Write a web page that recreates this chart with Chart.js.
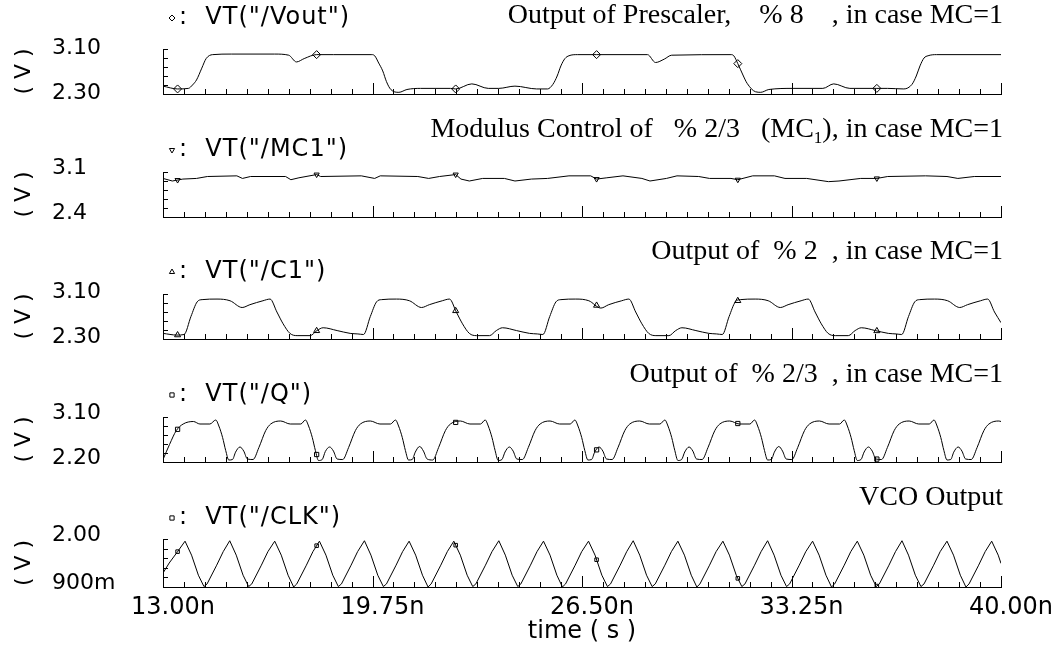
<!DOCTYPE html>
<html>
<head>
<meta charset="utf-8">
<script src="https://cdn.jsdelivr.net/npm/chart.js@4.4.1/dist/chart.umd.min.js"></script>
<style>
  html, body { margin: 0; padding: 0; background: #fff; }
  #wrap { position: relative; width: 1060px; height: 651px; overflow: hidden; }
  #wrap canvas { position: absolute; left: 0; }
</style>
</head>
<body>
<div id="wrap"></div>
<script>
// time axis, ns
const timeTicks = [13, 19.75, 26.5, 33.25, 40];
const timeTickLabels = ['13.00n', '19.75n', '26.50n', '33.25n', '40.00n'];

// one strip per node
const signalNames = ['/Vout', '/MC1', '/C1', '/Q', '/CLK'];
const yMax = [3.10, 3.1, 3.10, 3.10, 2.00];
const yMin = [2.30, 2.4, 2.30, 2.20, 0.9];
const yMaxLabels = ['3.10', '3.1', '3.10', '3.10', '2.00'];
const yMinLabels = ['2.30', '2.4', '2.30', '2.20', '900m'];
const captions = [
  'Output of Prescaler,    % 8    , in case MC=1',
  'Modulus Control of   % 2/3   (MC_1), in case MC=1',
  'Output of  % 2  , in case MC=1',
  'Output of  % 2/3  , in case MC=1',
  'VCO Output'
];

// where the trace symbols sit along each waveform
const markTimes = [13.47, 17.95, 22.43, 26.97, 31.52, 36.0];

// [time ns, volts]
const vout = [
  [13.00, 2.44], [13.47, 2.39], [13.82, 2.40], [13.95, 2.46], [14.08, 2.55], [14.25, 2.76], [14.39, 2.93], [14.60, 3.00],
  [15.20, 3.01], [16.60, 3.01], [17.05, 2.99], [17.30, 2.87], [17.55, 2.93], [17.95, 3.00], [18.50, 3.00], [19.73, 3.00],
  [19.82, 2.98], [19.95, 2.85], [20.08, 2.71], [20.20, 2.52], [20.34, 2.38], [20.60, 2.33], [20.86, 2.38], [21.30, 2.40],
  [22.26, 2.40], [22.43, 2.39], [22.95, 2.48], [23.48, 2.40], [23.82, 2.40], [24.34, 2.44], [25.04, 2.39], [25.39, 2.39],
  [25.56, 2.47], [25.70, 2.62], [25.82, 2.80], [25.95, 2.93], [26.08, 2.98], [26.35, 3.00], [26.97, 3.00], [28.61, 3.00],
  [28.87, 2.86], [29.15, 2.92], [29.39, 2.99], [31.30, 3.00], [31.39, 2.98], [31.52, 2.84], [31.70, 2.62], [31.82, 2.49],
  [32.09, 2.34], [32.26, 2.33], [32.52, 2.38], [33.30, 2.40], [34.26, 2.40], [34.61, 2.48], [35.13, 2.40], [36.00, 2.40],
  [36.35, 2.40], [36.87, 2.39], [37.13, 2.47], [37.27, 2.62], [37.39, 2.80], [37.52, 2.94], [37.65, 2.98], [37.92, 3.00],
  [40.00, 3.00]
];

const mc1 = [
  [13.00, 3.00], [13.30, 2.96], [13.64, 2.99], [14.08, 3.00], [14.43, 3.03], [15.38, 3.04], [15.56, 3.00], [15.82, 3.03],
  [16.95, 3.03], [17.12, 2.98], [17.38, 3.01], [17.95, 3.06], [18.08, 3.03], [19.39, 3.04], [19.82, 3.00], [20.00, 3.04],
  [21.21, 3.03], [21.56, 3.00], [21.91, 3.03], [22.43, 3.06], [22.60, 2.99], [22.87, 2.96], [23.30, 3.00], [24.00, 3.00],
  [24.34, 2.96], [24.87, 2.99], [25.39, 3.00], [26.08, 3.04], [26.78, 3.04], [26.97, 2.99], [27.30, 3.01], [27.82, 3.04],
  [28.43, 3.00], [28.69, 2.96], [29.22, 3.00], [29.56, 3.04], [30.26, 3.03], [30.61, 3.00], [31.30, 3.00], [31.52, 2.98],
  [32.00, 3.04], [32.70, 3.04], [33.04, 3.00], [33.74, 3.00], [34.44, 2.95], [34.78, 2.96], [35.48, 3.00], [36.00, 3.00],
  [36.35, 3.03], [37.57, 3.04], [38.26, 3.03], [38.61, 3.00], [39.14, 3.03], [40.00, 3.03]
];

const c1 = [
  [13.00, 2.40], [13.45, 2.37],
  [13.68, 2.38], [13.90, 2.70], [14.10, 2.96], [14.26, 3.00], [14.74, 3.01], [15.16, 2.98], [15.55, 2.86], [15.80, 2.91],
  [16.22, 2.98], [16.45, 3.01], [16.67, 2.78], [16.87, 2.57], [17.09, 2.40], [17.32, 2.36], [17.74, 2.36], [17.96, 2.45],
  [18.16, 2.50], [18.61, 2.45], [19.03, 2.40], [19.28, 2.39],
  [19.46, 2.38], [19.68, 2.70], [19.88, 2.96], [20.04, 3.00], [20.52, 3.01], [20.94, 2.98], [21.33, 2.86], [21.58, 2.91],
  [22.00, 2.98], [22.23, 3.01], [22.45, 2.78], [22.65, 2.57], [22.87, 2.40], [23.10, 2.36], [23.52, 2.36], [23.74, 2.45],
  [23.94, 2.50], [24.39, 2.45], [24.81, 2.40], [25.06, 2.39],
  [25.24, 2.38], [25.46, 2.70], [25.66, 2.96], [25.82, 3.00], [26.30, 3.01], [26.72, 2.98], [27.11, 2.85], [27.36, 2.91],
  [27.78, 2.98], [28.01, 3.01], [28.23, 2.78], [28.43, 2.57], [28.65, 2.40], [28.88, 2.36], [29.30, 2.36], [29.52, 2.45],
  [29.72, 2.50], [30.17, 2.45], [30.59, 2.40], [30.84, 2.39],
  [31.02, 2.38], [31.24, 2.70], [31.44, 2.96], [31.60, 3.00], [32.08, 3.01], [32.50, 2.98], [32.89, 2.86], [33.14, 2.91],
  [33.56, 2.98], [33.79, 3.01], [34.01, 2.78], [34.21, 2.57], [34.43, 2.40], [34.66, 2.36], [35.08, 2.36], [35.30, 2.45],
  [35.50, 2.50], [35.95, 2.45], [36.37, 2.40], [36.62, 2.39],
  [36.80, 2.38], [37.02, 2.70], [37.22, 2.96], [37.38, 3.00], [37.86, 3.01], [38.28, 2.98], [38.67, 2.86], [38.92, 2.91],
  [39.34, 2.98], [39.57, 3.01], [39.79, 2.78], [40.00, 2.59]
];

const q = [
  [13.00, 2.25], [13.21, 2.55], [13.43, 2.83], [13.65, 2.96], [13.98, 3.01], [14.19, 2.96], [14.51, 2.96],
  [14.70, 3.04], [14.80, 2.92], [14.92, 2.69], [15.02, 2.43], [15.12, 2.24], [15.24, 2.25], [15.34, 2.40], [15.48, 2.50], [15.60, 2.42],
  [15.72, 2.26], [15.90, 2.25], [16.09, 2.49], [16.31, 2.83], [16.47, 2.96], [16.79, 3.02], [17.10, 2.96], [17.44, 2.96],
  [17.59, 3.04], [17.69, 2.92], [17.81, 2.69], [17.91, 2.43], [18.01, 2.23], [18.13, 2.25], [18.23, 2.41], [18.37, 2.50], [18.49, 2.42],
  [18.61, 2.26], [18.79, 2.25], [18.98, 2.49], [19.20, 2.83], [19.36, 2.96], [19.68, 3.02], [19.99, 2.96], [20.33, 2.96],
  [20.49, 3.04], [20.59, 2.92], [20.71, 2.69], [20.81, 2.43], [20.91, 2.24], [21.03, 2.25], [21.13, 2.40], [21.27, 2.51], [21.39, 2.42],
  [21.51, 2.26], [21.69, 2.24], [21.88, 2.49], [22.10, 2.83], [22.26, 2.96], [22.58, 3.02], [22.89, 2.96], [23.23, 2.96],
  [23.38, 3.04], [23.48, 2.92], [23.60, 2.69], [23.70, 2.43], [23.80, 2.23], [23.92, 2.25], [24.02, 2.40], [24.16, 2.50], [24.28, 2.42],
  [24.40, 2.26], [24.58, 2.25], [24.77, 2.49], [24.99, 2.83], [25.15, 2.96], [25.47, 3.02], [25.78, 2.96], [26.12, 2.96],
  [26.27, 3.04], [26.37, 2.92], [26.49, 2.69], [26.59, 2.43], [26.69, 2.24], [26.81, 2.25], [26.91, 2.40], [27.05, 2.50], [27.17, 2.42],
  [27.29, 2.26], [27.47, 2.25], [27.66, 2.49], [27.88, 2.83], [28.04, 2.96], [28.36, 3.02], [28.67, 2.96], [29.01, 2.96],
  [29.17, 3.04], [29.27, 2.92], [29.39, 2.69], [29.49, 2.43], [29.59, 2.23], [29.71, 2.25], [29.81, 2.40], [29.95, 2.50], [30.07, 2.42],
  [30.19, 2.26], [30.37, 2.25], [30.56, 2.49], [30.78, 2.83], [30.94, 2.96], [31.26, 3.02], [31.57, 2.96], [31.91, 2.96],
  [32.06, 3.04], [32.16, 2.92], [32.28, 2.69], [32.38, 2.43], [32.48, 2.24], [32.60, 2.25], [32.70, 2.40], [32.84, 2.51], [32.96, 2.42],
  [33.08, 2.26], [33.26, 2.25], [33.45, 2.49], [33.67, 2.83], [33.83, 2.96], [34.15, 3.02], [34.46, 2.96], [34.80, 2.96],
  [34.95, 3.04], [35.05, 2.92], [35.17, 2.69], [35.27, 2.43], [35.37, 2.23], [35.49, 2.25], [35.59, 2.40], [35.73, 2.50], [35.85, 2.42],
  [35.97, 2.26], [36.15, 2.25], [36.34, 2.49], [36.56, 2.83], [36.72, 2.96], [37.04, 3.02], [37.35, 2.96], [37.69, 2.96],
  [37.84, 3.04], [37.94, 2.92], [38.06, 2.69], [38.16, 2.43], [38.26, 2.24], [38.38, 2.25], [38.48, 2.40], [38.62, 2.50], [38.74, 2.42],
  [38.86, 2.26], [39.04, 2.25], [39.23, 2.49], [39.45, 2.83], [39.61, 2.96], [39.93, 3.02], [40.00, 3.01]
];

const clk = [
  [13.00, 1.22], [13.20, 1.45], [13.48, 1.72],
  [13.71, 1.95], [13.92, 1.63], [14.14, 1.17], [14.32, 0.91], [14.42, 0.97], [14.73, 1.40], [14.94, 1.71],
  [15.15, 1.96], [15.36, 1.63], [15.58, 1.17], [15.76, 0.91], [15.86, 0.97], [16.17, 1.40], [16.38, 1.71],
  [16.60, 1.95], [16.81, 1.63], [17.03, 1.17], [17.21, 0.90], [17.31, 0.97], [17.62, 1.40], [17.83, 1.71],
  [18.04, 1.95], [18.25, 1.63], [18.47, 1.17], [18.65, 0.91], [18.75, 0.97], [19.06, 1.40], [19.27, 1.71],
  [19.49, 1.96], [19.70, 1.63], [19.92, 1.17], [20.10, 0.91], [20.20, 0.97], [20.51, 1.40], [20.72, 1.71],
  [20.93, 1.95], [21.14, 1.63], [21.36, 1.17], [21.54, 0.90], [21.64, 0.97], [21.95, 1.40], [22.16, 1.71],
  [22.37, 1.95], [22.58, 1.63], [22.80, 1.17], [22.98, 0.91], [23.08, 0.97], [23.39, 1.40], [23.60, 1.71],
  [23.82, 1.96], [24.03, 1.63], [24.25, 1.17], [24.43, 0.91], [24.53, 0.97], [24.84, 1.40], [25.05, 1.71],
  [25.26, 1.95], [25.47, 1.63], [25.69, 1.17], [25.87, 0.90], [25.97, 0.97], [26.28, 1.40], [26.49, 1.71],
  [26.71, 1.95], [26.92, 1.63], [27.14, 1.17], [27.32, 0.91], [27.42, 0.97], [27.73, 1.40], [27.94, 1.71],
  [28.15, 1.96], [28.36, 1.63], [28.58, 1.17], [28.76, 0.91], [28.86, 0.97], [29.17, 1.40], [29.38, 1.71],
  [29.59, 1.95], [29.80, 1.63], [30.02, 1.17], [30.20, 0.90], [30.30, 0.97], [30.61, 1.40], [30.82, 1.71],
  [31.04, 1.95], [31.25, 1.63], [31.47, 1.17], [31.65, 0.91], [31.75, 0.97], [32.06, 1.40], [32.27, 1.71],
  [32.48, 1.96], [32.69, 1.63], [32.91, 1.17], [33.09, 0.91], [33.19, 0.97], [33.50, 1.40], [33.71, 1.71],
  [33.93, 1.95], [34.14, 1.63], [34.36, 1.17], [34.54, 0.90], [34.64, 0.97], [34.95, 1.40], [35.16, 1.71],
  [35.37, 1.95], [35.58, 1.63], [35.80, 1.17], [35.98, 0.91], [36.08, 0.97], [36.39, 1.40], [36.60, 1.71],
  [36.81, 1.96], [37.02, 1.63], [37.24, 1.17], [37.42, 0.91], [37.52, 0.97], [37.83, 1.40], [38.04, 1.71],
  [38.26, 1.95], [38.47, 1.63], [38.69, 1.17], [38.87, 0.90], [38.97, 0.97], [39.28, 1.40], [39.49, 1.71],
  [39.70, 1.95], [39.91, 1.63], [40.00, 1.44]
];

const series = [vout, mc1, c1, q, clk];

// layout of the five strips
const W = 1060;
const labelLeft = 52;
const plotLeft = 163;
const plotRight = 1001;
const plotTops = [49, 172, 294, 417, 539];
const plotHeight = 48;
const titleGap = [31, 22, 22, 22, 21];
const captionGap = [35, 44, 44, 44, 43];
const yLabelShift = [-1, -4, -1.5, -3.5, -4];
const smooth = [true, false, true, true, false];
const markStyle = ['rectRot', 'triangle', 'triangle', 'rect', 'rect'];
const markRotation = [0, 180, 0, 0, 0];
const markRadius = [4, 3, 3.5, 3, 2.5];

const cadFont = '"DejaVu Sans", sans-serif';
const serifFont = '"Liberation Serif", "Times New Roman", serif';

function valueAt(points, t) {
  for (let i = 1; i < points.length; i++) {
    const [t0, v0] = points[i - 1];
    const [t1, v1] = points[i];
    if (t <= t1) return v0 + (v1 - v0) * (t - t0) / (t1 - t0);
  }
  return points[points.length - 1][1];
}

// small tick marks pointing into the plot, like the waveform viewer draws them
const innerTicks = {
  id: 'innerTicks',
  afterDraw(chart) {
    const { ctx, chartArea: a, scales: { x, y } } = chart;
    ctx.save();
    ctx.strokeStyle = '#000';
    ctx.lineWidth = 1;
    ctx.beginPath();
    for (let i = 0; i <= 40; i++) {
      const px = Math.round(x.getPixelForValue(13 + i * 0.675)) + 0.5;
      const len = i % 10 === 0 ? 11 : 5;
      ctx.moveTo(px, a.bottom);
      ctx.lineTo(px, a.bottom - len);
    }
    for (let j = 0; j <= 5; j++) {
      const py = Math.round(y.getPixelForValue(y.min + j * (y.max - y.min) / 5)) + 0.5;
      ctx.moveTo(a.left, py);
      ctx.lineTo(a.left + 5, py);
    }
    ctx.stroke();
    ctx.restore();
  }
};

// trace name on the left, serif caption on the right ("_1" is a subscript)
function stripLabels(i) {
  return {
    id: 'stripLabels',
    afterDraw(chart) {
      const { ctx, chartArea: a } = chart;
      ctx.save();
      ctx.fillStyle = 'rgba(0,0,0,0)';
      ctx.strokeStyle = '#000';
      const ty = a.top - titleGap[i];
      Chart.helpers.drawPoint(ctx, {
        pointStyle: markStyle[i], radius: 3, rotation: markRotation[i], borderWidth: 1
      }, a.left + 9, ty);

      ctx.fillStyle = '#000';
      ctx.textBaseline = 'middle';
      ctx.textAlign = 'left';
      ctx.font = '24px ' + cadFont;
      ctx.letterSpacing = '1px';
      ctx.fillText(':  VT("' + signalNames[i] + '")', a.left + 16, ty);
      ctx.letterSpacing = '0px';

      const parts = captions[i].split(/_(\w)/);
      const mainFont = '28px ' + serifFont;
      const subFont = '17px ' + serifFont;
      let total = 0;
      parts.forEach((p, k) => {
        ctx.font = k % 2 ? subFont : mainFont;
        total += ctx.measureText(p).width;
      });
      let cx = 1003 - total;
      const cy = a.top - captionGap[i] + 9;
      ctx.textBaseline = 'alphabetic';
      parts.forEach((p, k) => {
        ctx.font = k % 2 ? subFont : mainFont;
        ctx.fillText(p, cx, k % 2 ? cy + 6 : cy);
        cx += ctx.measureText(p).width;
      });
      ctx.restore();
    }
  };
}

const wrap = document.getElementById('wrap');

series.forEach((pts, i) => {
  const last = i === series.length - 1;
  const top = i === 0 ? 0 : plotTops[i] - 56;
  const padTop = plotTops[i] - top;
  const xBand = last ? 64 : 0;
  const height = padTop + plotHeight + (last ? xBand : 2);

  const canvas = document.createElement('canvas');
  canvas.width = W;
  canvas.height = height;
  canvas.style.top = top + 'px';
  wrap.appendChild(canvas);

  new Chart(canvas, {
    type: 'line',
    data: {
      datasets: [{
        data: pts.map(([x, y]) => ({ x, y })),
        borderColor: '#000',
        borderWidth: 1,
        pointRadius: 0,
        cubicInterpolationMode: smooth[i] ? 'monotone' : 'default',
        tension: 0
      }, {
        data: markTimes.map(t => ({ x: t, y: valueAt(pts, t) })),
        showLine: false,
        pointStyle: markStyle[i],
        rotation: markRotation[i],
        pointRadius: markRadius[i],
        borderColor: '#000',
        borderWidth: 1,
        backgroundColor: 'rgba(0,0,0,0)'
      }]
    },
    options: {
      responsive: false,
      animation: false,
      devicePixelRatio: 1,
      events: [],
      layout: { padding: { top: padTop, bottom: last ? 0 : 2, left: labelLeft, right: W - plotRight } },
      plugins: { legend: { display: false }, tooltip: { enabled: false } },
      scales: {
        x: {
          type: 'linear',
          min: 13,
          max: 40,
          grid: { display: false, drawTicks: false },
          border: { display: true, color: '#000', width: 1 },
          ticks: {
            display: last,
            color: '#000',
            font: { family: cadFont, size: 24 },
            padding: 6,
            labelOffset: 10,
            maxRotation: 0,
            autoSkip: false,
            callback: (v, k) => timeTickLabels[k]
          },
          afterBuildTicks: s => { s.ticks = timeTicks.map(value => ({ value })); },
          title: {
            display: last,
            text: 'time ( s )',
            color: '#000',
            font: { family: cadFont, size: 24 },
            padding: { top: 0, bottom: 5 }
          },
          afterFit: s => { s.height = xBand; }
        },
        y: {
          type: 'linear',
          min: yMin[i],
          max: yMax[i],
          grid: { display: false, drawTicks: false },
          border: { display: true, color: '#000', width: 1 },
          ticks: {
            color: '#000',
            font: { family: cadFont, size: 22 },
            crossAlign: 'far',
            labelOffset: yLabelShift[i],
            callback: (v, k) => (k === 0 ? yMinLabels[i] : yMaxLabels[i])
          },
          afterBuildTicks: s => { s.ticks = [{ value: yMin[i] }, { value: yMax[i] }]; },
          title: {
            display: true,
            text: '( V )',
            color: '#000',
            font: { family: cadFont, size: 22 },
            padding: { top: 24 - labelLeft - 13, bottom: 0 }
          },
          afterFit: s => { s.width = plotLeft - labelLeft; s.paddingTop = 0; s.paddingBottom = 0; }
        }
      }
    },
    plugins: [innerTicks, stripLabels(i)]
  });
});
</script>
</body>
</html>
